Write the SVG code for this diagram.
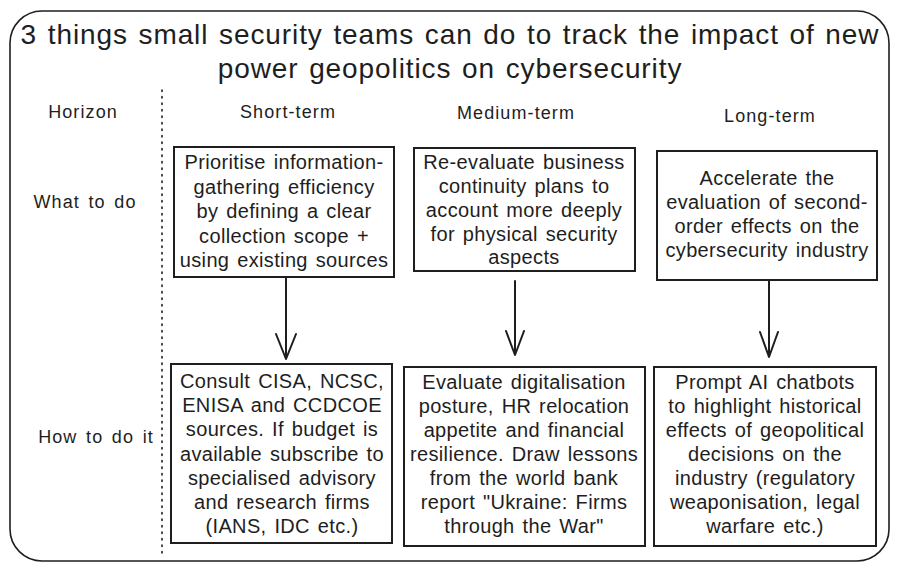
<svg xmlns="http://www.w3.org/2000/svg" width="900" height="571" viewBox="0 0 900 571">
<defs>
<style>
text{font-family:"Liberation Sans","DejaVu Sans",sans-serif;fill:#1e1e1e;text-anchor:middle;dominant-baseline:central}
.t{font-size:28px;letter-spacing:0.9px;word-spacing:2px}
.h{font-size:18px;letter-spacing:1.1px;word-spacing:2.5px}
.b{font-size:20px;letter-spacing:0.35px;word-spacing:2px}
.box{fill:#fff;stroke:#1e1e1e;stroke-width:2}
.conn{stroke:#1e1e1e;stroke-width:2;fill:none;stroke-linecap:round;stroke-linejoin:round}
</style>
</defs>
<rect width="900" height="571" fill="#fff"/>
<g id="frame">
<rect x="10" y="11" width="879" height="550" rx="32" ry="32" fill="none" stroke="#1e1e1e" stroke-width="1.6"/>
<line x1="162" y1="90" x2="162" y2="556" stroke="#1e1e1e" stroke-width="1.6" stroke-dasharray="1.5 5" stroke-linecap="round"/>
</g>
<g id="title">
<text class="t" x="450" y="34">3 things small security teams can do to track the impact of new</text>
<text class="t" x="450" y="68">power geopolitics on cybersecurity</text>
</g>
<g id="row-labels">
<text class="h" x="83" y="112">Horizon</text>
<text class="h" x="85" y="202">What to do</text>
<text class="h" x="96" y="437">How to do it</text>
</g>
<g id="col-headers">
<text class="h" x="288" y="112">Short-term</text>
<text class="h" x="516" y="113">Medium-term</text>
<text class="h" x="770" y="116">Long-term</text>
</g>
<g id="what-short">
<rect class="box" x="174" y="147" width="220" height="130"/>
<text class="b" x="284" y="162">Prioritise information-</text>
<text class="b" x="284" y="187">gathering efficiency</text>
<text class="b" x="284" y="211">by defining a clear</text>
<text class="b" x="284" y="236">collection scope +</text>
<text class="b" x="284" y="260">using existing sources</text>
</g>
<g id="what-medium">
<rect class="box" x="414" y="148" width="221" height="123"/>
<text class="b" x="524" y="162">Re-evaluate business</text>
<text class="b" x="524" y="186">continuity plans to</text>
<text class="b" x="524" y="210">account more deeply</text>
<text class="b" x="524" y="234">for physical security</text>
<text class="b" x="524" y="257">aspects</text>
</g>
<g id="what-long">
<rect class="box" x="657" y="151" width="220" height="129"/>
<text class="b" x="767" y="178">Accelerate the</text>
<text class="b" x="767" y="202">evaluation of second-</text>
<text class="b" x="767" y="226">order effects on the</text>
<text class="b" x="767" y="250">cybersecurity industry</text>
</g>
<g id="how-short">
<rect class="box" x="171" y="364" width="221" height="179"/>
<text class="b" x="282" y="381">Consult CISA, NCSC,</text>
<text class="b" x="282" y="405">ENISA and CCDCOE</text>
<text class="b" x="282" y="429">sources. If budget is</text>
<text class="b" x="282" y="454">available subscribe to</text>
<text class="b" x="282" y="478">specialised advisory</text>
<text class="b" x="282" y="502">and research firms</text>
<text class="b" x="282" y="526">(IANS, IDC etc.)</text>
</g>
<g id="how-medium">
<rect class="box" x="404" y="367" width="241" height="179"/>
<text class="b" x="524" y="382">Evaluate digitalisation</text>
<text class="b" x="524" y="406">posture, HR relocation</text>
<text class="b" x="524" y="430">appetite and financial</text>
<text class="b" x="524" y="454">resilience. Draw lessons</text>
<text class="b" x="524" y="478">from the world bank</text>
<text class="b" x="524" y="502">report "Ukraine: Firms</text>
<text class="b" x="524" y="526">through the War"</text>
</g>
<g id="how-long">
<rect class="box" x="654" y="367" width="222" height="179"/>
<text class="b" x="765" y="382">Prompt AI chatbots</text>
<text class="b" x="765" y="406">to highlight historical</text>
<text class="b" x="765" y="430">effects of geopolitical</text>
<text class="b" x="765" y="454">decisions on the</text>
<text class="b" x="765" y="478">industry (regulatory</text>
<text class="b" x="765" y="502">weaponisation, legal</text>
<text class="b" x="765" y="526">warfare etc.)</text>
</g>
<g id="connectors">
<path class="conn" d="M286 278 L286 359 M276 334 L286 359 L296 334"/>
<path class="conn" d="M515 281 L515 355 M506 331 L515 355 L524 331"/>
<path class="conn" d="M769 280 L769 357 M760 332 L769 357 L778 332"/>
</g>
</svg>
